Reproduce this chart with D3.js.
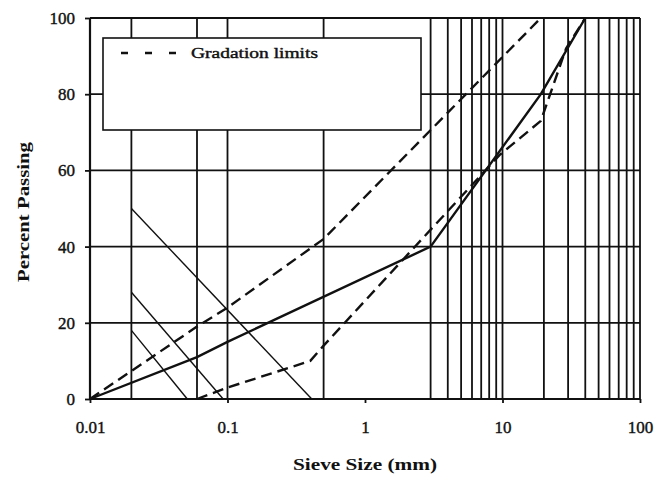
<!DOCTYPE html>
<html>
<head>
<meta charset="utf-8">
<script src="https://cdn.jsdelivr.net/npm/d3@7"></script>
<style>
  body { margin: 0; background: #fff; }
  svg { display: block; }
  text { font-family: "Liberation Serif", "Times New Roman", serif; fill: #111; }
</style>
</head>
<body>
<svg id="chart" width="659" height="477"></svg>
<script>
// tick labels and sieve grid lines (mm)
const xTicks = [0.01, 0.1, 1, 10, 100]
const yTicks = [0, 20, 40, 60, 80, 100]
const sieveGrid = [0.02, 0.06, 0.1, 0.5, 3, 4, 5, 6, 7, 8, 9, 10, 20, 30, 40, 50, 60, 70, 80, 90, 100]

// curves: [size mm, percent passing]
const upperLimit = [[0.01, 0], [0.06, 19], [0.1, 24], [0.5, 42], [19, 100]]
const lowerLimit = [[0.06, 0], [0.1, 3], [0.4, 10], [0.5, 14], [9.5, 64], [19, 73], [29, 92], [40, 100]]
const gradation = [[0.01, 0], [0.06, 11], [0.1, 15], [3, 40], [19, 80], [40, 100]]
// thin sloping lines in the lower left corner
const thinLines = [
  [[0.02, 50], [0.41, 0]],
  [[0.02, 28], [0.093, 0]],
  [[0.02, 18], [0.051, 0]],
]

const svg = d3.select("#chart")
const plotLeft = 90, plotRight = 640, plotTop = 18, plotBottom = 399

const x = d3.scaleLog().domain([0.01, 100]).range([plotLeft, plotRight])
const y = d3.scaleLinear().domain([0, 100]).range([plotBottom, plotTop])

const ink = "#111"

// horizontal grid
svg.append("g")
  .selectAll("line")
  .data(yTicks)
  .join("line")
  .attr("x1", plotLeft).attr("x2", plotRight)
  .attr("y1", (d) => y(d)).attr("y2", (d) => y(d))
  .attr("stroke", ink).attr("stroke-width", 1.8)

// vertical grid
svg.append("g")
  .selectAll("line")
  .data(sieveGrid)
  .join("line")
  .attr("x1", (d) => x(d)).attr("x2", (d) => x(d))
  .attr("y1", plotTop).attr("y2", plotBottom)
  .attr("stroke", ink).attr("stroke-width", 1.8)

// left axis line
svg.append("line")
  .attr("x1", plotLeft).attr("x2", plotLeft)
  .attr("y1", plotTop).attr("y2", plotBottom)
  .attr("stroke", ink).attr("stroke-width", 2.2)

// axes via d3
const yAxis = d3.axisLeft(y).tickValues(yTicks).tickSize(5).tickPadding(10)
const yG = svg.append("g").attr("transform", `translate(${plotLeft},0)`).call(yAxis)
yG.select(".domain").remove()
yG.selectAll("line").attr("stroke", ink).attr("stroke-width", 1.8)
yG.selectAll("text")
  .attr("font-size", 17)
  .style("font-family", '"Liberation Serif", serif')
  .attr("fill", ink).attr("stroke", ink).attr("stroke-width", 0.4)

const xAxis = d3.axisBottom(x).tickValues(xTicks).tickSize(4).tickPadding(18)
  .tickFormat((d) => String(d))
const xG = svg.append("g").attr("transform", `translate(0,${plotBottom})`).call(xAxis)
xG.select(".domain").remove()
xG.selectAll("line").attr("stroke", ink).attr("stroke-width", 1.8)
xG.selectAll("text")
  .attr("font-size", 17)
  .style("font-family", '"Liberation Serif", serif')
  .attr("fill", ink).attr("stroke", ink).attr("stroke-width", 0.4)

// legend box (drawn over the grid)
const legend = svg.append("g")
legend.append("rect")
  .attr("x", 103).attr("y", 38)
  .attr("width", 318).attr("height", 92)
  .attr("fill", "#fff")
  .attr("stroke", ink).attr("stroke-width", 1.6)
legend.append("line")
  .attr("x1", 121).attr("x2", 178)
  .attr("y1", 53).attr("y2", 53)
  .attr("stroke", ink).attr("stroke-width", 2.5)
  .attr("stroke-dasharray", "7,17")
legend.append("text")
  .attr("x", 191).attr("y", 58)
  .attr("font-size", 14)
  .attr("stroke", ink).attr("stroke-width", 0.4)
  .attr("textLength", 127)
  .attr("lengthAdjust", "spacingAndGlyphs")
  .text("Gradation limits")

const line = d3.line().x((d) => x(d[0])).y((d) => y(d[1]))

// thin lines
svg.append("g")
  .selectAll("path")
  .data(thinLines)
  .join("path")
  .attr("d", line)
  .attr("fill", "none")
  .attr("stroke", ink).attr("stroke-width", 1.4)

// gradation limits
svg.append("g")
  .selectAll("path")
  .data([upperLimit, lowerLimit])
  .join("path")
  .attr("d", line)
  .attr("fill", "none")
  .attr("stroke", ink).attr("stroke-width", 2.4)
  .attr("stroke-dasharray", "11,6")

// mix gradation
svg.append("path")
  .datum(gradation)
  .attr("d", line)
  .attr("fill", "none")
  .attr("stroke", ink).attr("stroke-width", 2.4)

// axis titles
svg.append("text")
  .attr("x", 365).attr("y", 470)
  .attr("text-anchor", "middle")
  .attr("font-size", 17).attr("font-weight", "bold")
  .attr("textLength", 144)
  .attr("lengthAdjust", "spacingAndGlyphs")
  .text("Sieve Size (mm)")

svg.append("text")
  .attr("transform", "translate(29,212) rotate(-90)")
  .attr("text-anchor", "middle")
  .attr("font-size", 16).attr("font-weight", "bold")
  .attr("textLength", 140)
  .attr("lengthAdjust", "spacingAndGlyphs")
  .text("Percent Passing")
</script>
</body>
</html>
